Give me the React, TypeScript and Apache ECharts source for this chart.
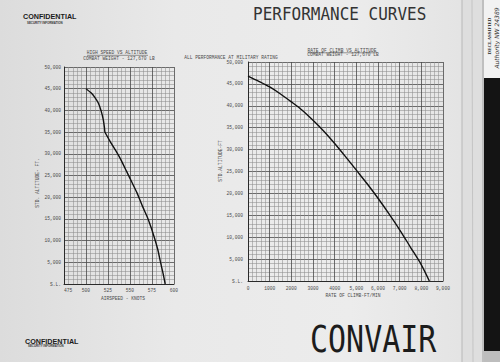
import React, { useEffect, useRef } from "react";
import * as echarts from "echarts";

// High speed vs altitude (left chart)
const airspeedKnots = [500, 506, 510, 514, 517, 519.5, 521, 521.5, 527, 533, 540, 546, 552, 558, 564, 569.5, 574, 578, 581.5, 584.5, 587.5, 590];
const speedAltitudeFt = [45000, 44000, 43000, 41700, 40000, 38000, 36000, 35000, 33000, 31000, 28500, 26000, 23500, 21000, 18000, 15500, 13000, 10500, 8000, 5200, 2500, 0];

// Rate of climb vs altitude (right chart)
const climbRateFtMin = [0, 500, 1000, 1500, 2000, 2500, 3000, 3500, 4000, 4500, 5000, 5500, 6000, 6500, 7000, 7500, 8000, 8370];
const climbAltitudeFt = [46800, 45600, 44300, 42700, 40900, 39000, 36700, 34200, 31400, 28400, 25300, 22200, 18900, 15400, 11700, 7700, 3700, 0];

// Tick labels
const altitudeTickLabels = ["S.L.", "5,000", "10,000", "15,000", "20,000", "25,000", "30,000", "35,000", "40,000", "45,000", "50,000"];
const airspeedTickLabels = ["475", "500", "525", "550", "575", "600"];
const climbTickLabels = ["0", "1000", "2000", "3000", "4000", "5,000", "6,000", "7,000", "8,000", "9,000"];

const MONO = "'Liberation Mono', 'DejaVu Sans Mono', monospace";
const LABEL_COLOR = "#4a4a4a";

export default function App() {
  const ref = useRef<HTMLDivElement>(null);

  useEffect(() => {
    if (!ref.current) return;
    const chart = echarts.init(ref.current, null, { renderer: "svg" });

    const axisCommon = {
      type: "value" as const,
      axisLine: { show: true, lineStyle: { color: "#2a2a2a", width: 1 } },
      axisTick: { show: false },
      minorTick: { show: false, splitNumber: 5 },
      splitLine: { show: true, lineStyle: { color: "#4a4a4a", width: 0.8 } },
      minorSplitLine: { show: true, lineStyle: { color: "#8e8e8e", width: 0.55 } },
    };
    const labelStyle = { fontSize: 4.6, color: LABEL_COLOR, fontFamily: MONO };

    const txt = (text: string, x: number, y: number, extra: any = {}, styleExtra: any = {}) => ({
      type: "text",
      x,
      y,
      ...extra,
      style: {
        text,
        fill: LABEL_COLOR,
        font: `4.6px ${MONO}`,
        textAlign: "center",
        textVerticalAlign: "middle",
        ...styleExtra,
      },
    });

    const option: any = {
      animation: false,
      backgroundColor: new echarts.graphic.LinearGradient(0, 0, 1, 0, [
        { offset: 0, color: "#dcdcdc" },
        { offset: 0.35, color: "#e9e9e9" },
        { offset: 0.7, color: "#ececec" },
        { offset: 0.92, color: "#e4e4e4" },
        { offset: 1, color: "#d0d0d0" },
      ]),
      grid: [
        { left: 64, top: 67, width: 110, height: 217 },
        { left: 248, top: 62, width: 195, height: 219 },
      ],
      xAxis: [
        {
          ...axisCommon,
          gridIndex: 0,
          min: 475,
          max: 600,
          interval: 25,
          axisLabel: {
            ...labelStyle,
            margin: 4,
            alignMinLabel: "left",
            formatter: (v: number) => airspeedTickLabels[Math.round((v - 475) / 25)] ?? "",
          },
        },
        {
          ...axisCommon,
          gridIndex: 1,
          min: 0,
          max: 9000,
          interval: 1000,
          axisLabel: {
            ...labelStyle,
            margin: 5,
            formatter: (v: number) => climbTickLabels[Math.round(v / 1000)] ?? "",
          },
        },
      ],
      yAxis: [
        {
          ...axisCommon,
          gridIndex: 0,
          min: 0,
          max: 50000,
          interval: 5000,
          axisLabel: {
            ...labelStyle,
            margin: 3,
            formatter: (v: number) => altitudeTickLabels[Math.round(v / 5000)] ?? "",
          },
        },
        {
          ...axisCommon,
          gridIndex: 1,
          min: 0,
          max: 50000,
          interval: 5000,
          axisLabel: {
            ...labelStyle,
            margin: 5,
            formatter: (v: number) => altitudeTickLabels[Math.round(v / 5000)] ?? "",
          },
        },
      ],
      series: [
        {
          type: "line",
          xAxisIndex: 0,
          yAxisIndex: 0,
          data: airspeedKnots.map((s, i) => [s, speedAltitudeFt[i]]),
          showSymbol: false,
          smooth: 0.15,
          lineStyle: { color: "#111", width: 1.4 },
        },
        {
          type: "line",
          xAxisIndex: 1,
          yAxisIndex: 1,
          data: climbRateFtMin.map((r, i) => [r, climbAltitudeFt[i]]),
          showSymbol: false,
          smooth: 0.3,
          lineStyle: { color: "#111", width: 1.4 },
        },
      ],
      graphic: [
        // page edges on the right
        { type: "rect", shape: { x: 462, y: 0, width: 23, height: 362 }, style: { fill: "#dedede" } },
        { type: "line", shape: { x1: 462, y1: 0, x2: 462, y2: 362 }, style: { stroke: "#b8b8b8", lineWidth: 1 } },
        { type: "line", shape: { x1: 472, y1: 0, x2: 473, y2: 362 }, style: { stroke: "#c4c4c4", lineWidth: 1 } },
        { type: "line", shape: { x1: 483, y1: 0, x2: 483, y2: 362 }, style: { stroke: "#a0a0a0", lineWidth: 1 } },
        { type: "rect", shape: { x: 484, y: 78, width: 16, height: 273 }, style: { fill: "#141414" } },
        { type: "rect", shape: { x: 484, y: 351, width: 16, height: 11 }, style: { fill: "#bdbdbd" } },
        { type: "rect", shape: { x: 484, y: 0, width: 16, height: 78 }, style: { fill: "#f2f2f2" } },
        {
          type: "text",
          x: 489,
          y: 36,
          rotation: Math.PI / 2,
          style: { text: "DECLASSIFIED", font: "bold 5px 'Liberation Serif', serif", fill: "#222", textAlign: "center", textVerticalAlign: "middle" },
        },
        {
          type: "text",
          x: 496,
          y: 38,
          rotation: Math.PI / 2,
          style: { text: "Authority NW 24389", font: "italic 6px 'DejaVu Sans', sans-serif", fill: "#333", textAlign: "center", textVerticalAlign: "middle" },
        },
        // headers
        {
          type: "text",
          x: 23,
          y: 16.5,
          style: { text: "CONFIDENTIAL", font: "bold 7.2px 'Liberation Sans', sans-serif", fill: "#1a1a1a", textAlign: "left", textVerticalAlign: "middle" },
        },
        {
          type: "text",
          x: 27,
          y: 22.5,
          style: { text: "SECURITY INFORMATION", font: "bold 2.9px 'Liberation Sans', sans-serif", fill: "#333", textAlign: "left", textVerticalAlign: "middle" },
        },
        {
          type: "text",
          x: 253,
          y: 14,
          scaleY: 1.15,
          style: { text: "PERFORMANCE CURVES", font: "16px 'DejaVu Sans Mono', monospace", fill: "#333", textAlign: "left", textVerticalAlign: "middle" },
        },
        {
          type: "text",
          x: 25,
          y: 341,
          style: { text: "CONFIDENTIAL", font: "bold 7.2px 'Liberation Sans', sans-serif", fill: "#1a1a1a", textAlign: "left", textVerticalAlign: "middle" },
        },
        {
          type: "text",
          x: 28,
          y: 345.8,
          style: { text: "SECURITY INFORMATION", font: "bold 2.9px 'Liberation Sans', sans-serif", fill: "#333", textAlign: "left", textVerticalAlign: "middle" },
        },
        {
          type: "text",
          x: 310,
          y: 338.5,
          scaleY: 1.25,
          style: { text: "CONVAIR", font: "30px 'DejaVu Sans Mono', monospace", fill: "#1c1c1c", textAlign: "left", textVerticalAlign: "middle" },
        },
        // chart titles
        txt("HIGH SPEED VS ALTITUDE", 117, 52.3),
        { type: "line", shape: { x1: 87, y1: 55.3, x2: 148, y2: 55.3 }, style: { stroke: "#555", lineWidth: 0.6 } },
        txt("COMBAT WEIGHT - 127,670 LB", 119, 58.8),
        txt("ALL PERFORMANCE AT MILITARY RATING", 231, 57.5),
        txt("RATE OF CLIMB VS ALTITUDE", 342, 50),
        { type: "line", shape: { x1: 308, y1: 52.8, x2: 377, y2: 52.8 }, style: { stroke: "#555", lineWidth: 0.6 } },
        txt("COMBAT WEIGHT - 127,670 LB", 343, 54.6),
        // axis names
        txt("STD. ALTITUDE- FT.", 37, 183, { rotation: Math.PI / 2 }),
        txt("AIRSPEED - KNOTS", 123, 298),
        txt("STD.ALTITUDE-FT", 220.7, 161, { rotation: Math.PI / 2 }),
        txt("RATE OF CLIMB-FT/MIN", 353, 295.8),
      ],
    };

    chart.setOption(option);
    return () => chart.dispose();
  }, []);

  return (
    <div
      ref={ref}
      style={{ position: "fixed", left: 0, top: 0, width: 500, height: 362 }}
    />
  );
}
